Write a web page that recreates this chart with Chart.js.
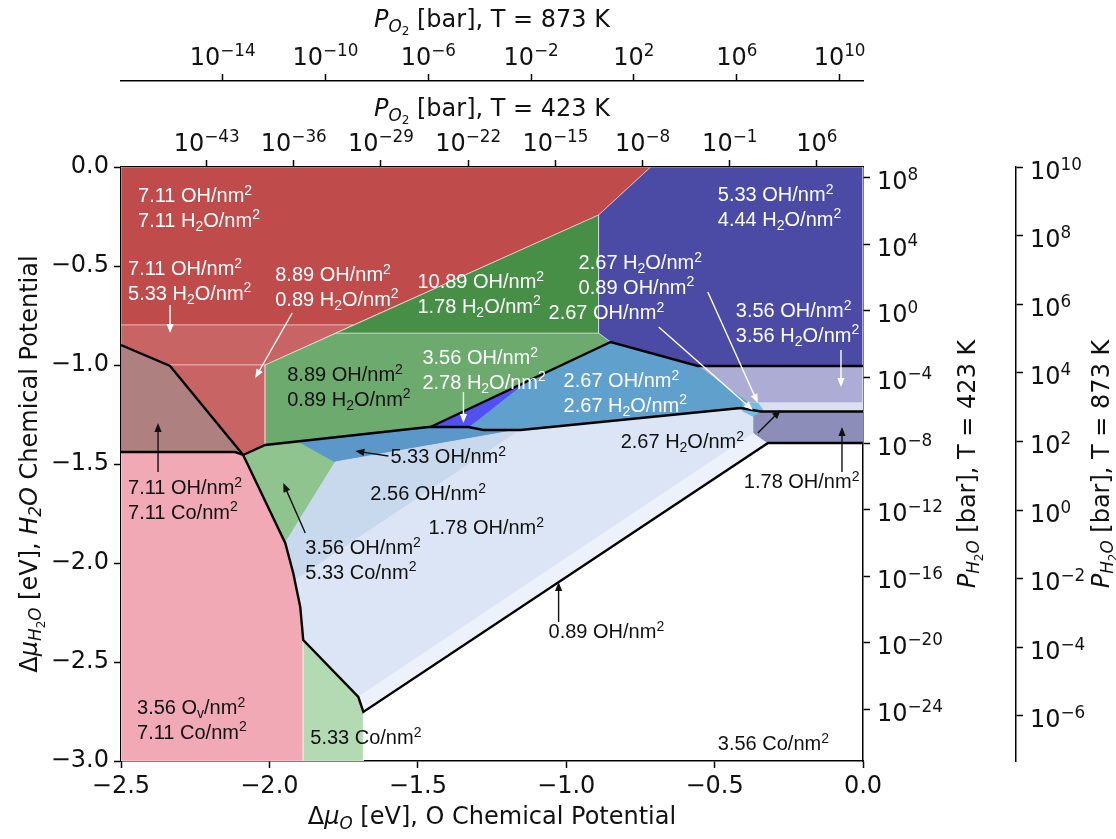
<!DOCTYPE html>
<html>
<head>
<meta charset="utf-8">
<title>Surface phase diagram</title>
<script src="https://cdn.jsdelivr.net/npm/chart.js@4.4.1/dist/chart.umd.min.js"></script>
<style>
  html, body { margin: 0; padding: 0; background: #fff; }
  #wrap { width: 1116px; height: 839px; }
</style>
</head>
<body>
<div id="wrap"><canvas id="diagram" width="1116" height="839"></canvas></div>
<script>
// ---------- thermodynamic references for the pressure axes (eV) ----------
const kB = 8.617333e-5;
const T_LOW = 423, T_HIGH = 873;
const muO_ref = { 423: -0.407, 873: -0.945 };    // Δμ_O at p = 1 bar
const muH2O_ref = { 423: -0.725, 873: -1.733 };  // Δμ_H2O at p = 1 bar

// ---------- axis ranges and tick values ----------
const muO_range = [-2.5, 0];
const muH2O_range = [-3, 0];
const o2TicksLow = [-43, -36, -29, -22, -15, -8, -1, 6];
const o2TicksHigh = [-14, -10, -6, -2, 2, 6, 10];
const h2oTicksLow = [8, 4, 0, -4, -8, -12, -16, -20, -24];
const h2oTicksHigh = [10, 8, 6, 4, 2, 0, -2, -4, -6];

// ---------- stable phases: vertices as [Δμ_O, Δμ_H2O] ----------
const oh711_h2o711 = [[-2.5, 0], [-0.7152, 0], [-0.8907, -0.2424], [-1.7173, -0.798], [-2.5, -0.798]];
const oh711_h2o533 = [[-2.5, -0.798], [-1.7173, -0.798], [-2.0142, -1.0], [-2.5, -1.0]];
const oh889_h2o089_a = [[-2.5, -1.0], [-2.0142, -1.0], [-2.0142, -1.404], [-2.0884, -1.4545], [-2.5, -1.4545]];
const oh711_co711 = [[-2.5, -0.899], [-2.3347, -1.0051], [-2.0884, -1.4545], [-2.1154, -1.4394], [-2.5, -1.4394]];
const ov356_co711 = [[-2.5, -1.4394], [-2.1154, -1.4394], [-2.0884, -1.4545], [-1.9467, -1.899], [-1.9197, -2.0505],
                     [-1.8961, -2.2222], [-1.886, -2.3889], [-1.886, -3.0], [-2.5, -3.0]];
const co533 = [[-1.886, -2.3889], [-1.7004, -2.6768], [-1.6835, -2.7525], [-1.6835, -3.0], [-1.886, -3.0]];
const oh356_co533 = [[-2.0884, -1.4545], [-2.0142, -1.404], [-1.9028, -1.3859], [-1.778, -1.4899], [-1.9467, -1.899]];
const oh533 = [[-1.9028, -1.3859], [-1.4642, -1.3131], [-1.3293, -1.3131], [-1.2787, -1.3283], [-1.164, -1.3283], [-1.778, -1.4899]];
const oh256 = [[-1.9467, -1.899], [-1.778, -1.4899], [-1.164, -1.3283], [-1.1538, -1.3283], [-1.9146, -2.0874], [-1.9197, -2.0505]];
const oh178 = [[-1.9146, -2.0874], [-1.1538, -1.3283], [-0.4116, -1.2172], [-0.3677, -1.2424], [-0.3677, -1.3434],
               [-1.7004, -2.6768], [-1.886, -2.3889], [-1.8961, -2.2222]];
const oh089 = [[-1.7004, -2.6768], [-0.3677, -1.3434], [-0.32, -1.394], [-1.6835, -2.7525]];
const oh178_b = [[-0.3441, -1.2348], [0, -1.2348], [0, -1.394], [-0.32, -1.394], [-0.3677, -1.3434], [-0.3677, -1.2424]];
const oh356_h2o356 = [[-0.5567, -1.0051], [0, -1.0051], [0, -1.1919], [-0.3846, -1.1919]];
const h2o267_oh089 = [[-0.3846, -1.1919], [0, -1.1919], [0, -1.2273], [-0.3543, -1.2273]];
const oh267_h2o267 = [[-1.3293, -1.3131], [-1.1404, -1.0909], [-0.8502, -0.8838], [-0.5567, -1.0051], [-0.3846, -1.1919],
                      [-0.4116, -1.2172], [-1.1538, -1.3283], [-1.2787, -1.3283]];
const oh267 = [[-0.4049, -1.1919], [-0.3543, -1.1919], [-0.3374, -1.2273], [-0.3711, -1.2576], [-0.4049, -1.2323]];
const oh356_h2o278 = [[-1.4575, -1.3131], [-1.3293, -1.3131], [-1.1404, -1.0909]];
const oh889_h2o089 = [[-1.7746, -0.8384], [-0.8907, -0.8384], [-0.8502, -0.8838], [-1.4575, -1.3131], [-2.0142, -1.404], [-2.0142, -1.0]];
const oh1089_h2o178 = [[-0.8907, -0.2424], [-0.8907, -0.8384], [-1.7746, -0.8384]];
const oh533_h2o444 = [[-0.7152, 0], [0, 0], [0, -1.0051], [-0.5567, -1.0051], [-0.8502, -0.8838], [-0.8907, -0.8384], [-0.8907, -0.2424]];

// ---------- phase boundaries drawn in black ----------
const edgeCoTop = [[-2.5, -0.899], [-2.3347, -1.0051], [-2.0884, -1.4545]];
const edgeCoBottom = [[-2.5, -1.4394], [-2.1154, -1.4394], [-2.0884, -1.4545]];
const edgeHydroxyl = [[-2.0884, -1.4545], [-2.0142, -1.404], [-1.4642, -1.3131], [-1.3293, -1.3131], [-1.2787, -1.3283],
                      [-1.1538, -1.3283], [-0.4116, -1.2172], [-0.3441, -1.2348], [0, -1.2348]];
const edgeWater = [[-1.4575, -1.3131], [-0.8502, -0.8838], [-0.5567, -1.0051], [0, -1.0051]];
const edgeReduced = [[-2.0884, -1.4545], [-1.9467, -1.899], [-1.9197, -2.0505], [-1.8961, -2.2222], [-1.886, -2.3889],
                     [-1.7004, -2.6768], [-1.6835, -2.7525], [-0.32, -1.394], [0, -1.394]];

// ---------- appearance ----------
const LIGHT_EDGE = 'rgba(255,255,255,0.45)';
const phases = [
  { pts: oh711_h2o711, color: '#bf4b4b', edge: LIGHT_EDGE },
  { pts: oh711_h2o533, color: '#c86464', edge: LIGHT_EDGE },
  { pts: oh889_h2o089_a, color: '#c86464', edge: LIGHT_EDGE },
  { pts: oh711_co711, color: '#ae8080' },
  { pts: ov356_co711, color: '#f1a9b5', edge: LIGHT_EDGE },
  { pts: co533, color: '#b3dab3', edge: LIGHT_EDGE },
  { pts: oh356_co533, color: '#8fc48f' },
  { pts: oh533, color: '#5b97c9' },
  { pts: oh256, color: '#c9d9ed' },
  { pts: oh178, color: '#dbe5f5' },
  { pts: oh089, color: '#edf1fc' },
  { pts: oh178_b, color: '#8d8dba' },
  { pts: oh356_h2o356, color: '#acacd5', edge: LIGHT_EDGE },
  { pts: h2o267_oh089, color: '#dcdef1' },
  { pts: oh267_h2o267, color: '#5fa0cd' },
  { pts: oh267, color: '#72bde3' },
  { pts: oh356_h2o278, color: '#5050f5' },
  { pts: oh889_h2o089, color: '#6daa6d', edge: LIGHT_EDGE },
  { pts: oh1089_h2o178, color: '#478e47', edge: LIGHT_EDGE },
  { pts: oh533_h2o444, color: '#4b4ba6', edge: LIGHT_EDGE }
];
const boundaries = [edgeCoTop, edgeCoBottom, edgeHydroxyl, edgeWater, edgeReduced];

// coverage annotations: anchor of the first line (left edge, line centre)
const notes = [
  { at: [-2.4427, -0.1414], color: '#fff', lines: ['7.11 OH/nm^{2}', '7.11 H_{2}O/nm^{2}'] },
  { at: [-2.4764, -0.5101], color: '#fff', lines: ['7.11 OH/nm^{2}', '5.33 H_{2}O/nm^{2}'] },
  { at: [-1.9804, -0.5404], color: '#fff', lines: ['8.89 OH/nm^{2}', '0.89 H_{2}O/nm^{2}'] },
  { at: [-1.5013, -0.5758], color: '#fff', lines: ['10.89 OH/nm^{2}', '1.78 H_{2}O/nm^{2}'] },
  { at: [-1.4845, -0.9596], color: '#fff', lines: ['3.56 OH/nm^{2}', '2.78 H_{2}O/nm^{2}'] },
  { at: [-0.4892, -0.1364], color: '#fff', lines: ['5.33 OH/nm^{2}', '4.44 H_{2}O/nm^{2}'] },
  { at: [-0.9582, -0.4798], color: '#fff', lines: ['2.67 H_{2}O/nm^{2}', '0.89 OH/nm^{2}'] },
  { at: [-1.0594, -0.7323], color: '#fff', lines: ['2.67 OH/nm^{2}'] },
  { at: [-0.4285, -0.7222], color: '#fff', lines: ['3.56 OH/nm^{2}', '3.56 H_{2}O/nm^{2}'] },
  { at: [-1.0088, -1.0758], color: '#fff', lines: ['2.67 OH/nm^{2}', '2.67 H_{2}O/nm^{2}'] },
  { at: [-1.9399, -1.0455], color: '#111', lines: ['8.89 OH/nm^{2}', '0.89 H_{2}O/nm^{2}'] },
  { at: [-1.5924, -1.4596], color: '#111', lines: ['5.33 OH/nm^{2}'] },
  { at: [-1.6599, -1.6465], color: '#111', lines: ['2.56 OH/nm^{2}'] },
  { at: [-1.4642, -1.8182], color: '#111', lines: ['1.78 OH/nm^{2}'] },
  { at: [-1.8792, -1.9192], color: '#111', lines: ['3.56 OH/nm^{2}', '5.33 Co/nm^{2}'] },
  { at: [-2.4764, -1.6162], color: '#111', lines: ['7.11 OH/nm^{2}', '7.11 Co/nm^{2}'] },
  { at: [-2.4460, -2.7273], color: '#111', lines: ['3.56 O_{v}/nm^{2}', '7.11 Co/nm^{2}'] },
  { at: [-1.8623, -2.8788], color: '#111', lines: ['5.33 Co/nm^{2}'] },
  { at: [-1.0594, -2.3434], color: '#111', lines: ['0.89 OH/nm^{2}'] },
  { at: [-0.4892, -2.9091], color: '#111', lines: ['3.56 Co/nm^{2}'] },
  { at: [-0.8165, -1.3838], color: '#111', lines: ['2.67 H_{2}O/nm^{2}'] },
  { at: [-0.4015, -1.5859], color: '#111', lines: ['1.78 OH/nm^{2}'] }
];
const pointers = [
  { from: [-2.3347, -0.697], to: [-2.3347, -0.8384], color: '#fff' },
  { from: [-1.9231, -0.7374], to: [-2.0479, -1.0657], color: '#fff' },
  { from: [-1.3462, -1.1364], to: [-1.3462, -1.2929], color: '#fff' },
  { from: [-0.0742, -0.9242], to: [-0.0742, -1.1111], color: '#fff' },
  { from: [-0.5229, -0.6313], to: [-0.3543, -1.1919], color: '#fff' },
  { from: [-0.6883, -0.8081], to: [-0.3711, -1.2273], color: '#fff' },
  { from: [-2.3752, -1.5404], to: [-2.3752, -1.2929], color: '#111' },
  { from: [-1.5992, -1.4596], to: [-1.7105, -1.4343], color: '#111' },
  { from: [-1.8792, -1.8485], to: [-1.9534, -1.596], color: '#111' },
  { from: [-1.0256, -2.298], to: [-1.0256, -2.096], color: '#111' },
  { from: [-0.3543, -1.3434], to: [-0.2767, -1.2273], color: '#111' },
  { from: [-0.0708, -1.5404], to: [-0.0708, -1.3131], color: '#111' }
];

// ---------- text helpers ----------
const LABEL_FONT = "'Liberation Sans', Arial, sans-serif";
const AXIS_FONT = "'DejaVu Sans', sans-serif";
const AXIS_SIZE = 24;
const fmtMu = v => (v < 0 ? '\u2212' : '') + Math.abs(v).toFixed(1);

function parseMarkup(s) {
  const out = [];
  const re = /([_^])\{([^}]*)\}/g;
  let last = 0, m;
  while ((m = re.exec(s))) {
    if (m.index > last) out.push({ t: s.slice(last, m.index) });
    out.push({ t: m[2], k: m[1] === '^' ? 1 : -1 });
    last = re.lastIndex;
  }
  if (last < s.length) out.push({ t: s.slice(last) });
  return out;
}
const SCALE = { '1': 0.7, '-1': 0.7, '-2': 0.5, '0': 1 };
const SHIFT = { '1': -0.38, '-1': 0.2, '-2': 0.34, '0': 0 };
function drawSegments(ctx, segs, x, baseline, size, family, color, align) {
  let w = 0;
  segs.forEach(s => {
    const k = String(s.k || 0);
    s._font = (s.it ? 'italic ' : '') + (size * SCALE[k]).toFixed(2) + 'px ' + family;
    ctx.font = s._font;
    s._w = ctx.measureText(s.t).width;
    w += s._w;
  });
  let cx = align === 'center' ? x - w / 2 : x;
  ctx.fillStyle = color;
  ctx.textAlign = 'left';
  ctx.textBaseline = 'alphabetic';
  segs.forEach(s => {
    ctx.font = s._font;
    ctx.fillText(s.t, cx, baseline + SHIFT[String(s.k || 0)] * size);
    cx += s._w;
  });
}
function drawArrow(ctx, x0, y0, x1, y1, color) {
  const ang = Math.atan2(y1 - y0, x1 - x0);
  const head = 9, half = 3.6;
  ctx.strokeStyle = color;
  ctx.fillStyle = color;
  ctx.lineWidth = 1.4;
  ctx.beginPath();
  ctx.moveTo(x0, y0);
  ctx.lineTo(x1 - Math.cos(ang) * head * 0.8, y1 - Math.sin(ang) * head * 0.8);
  ctx.stroke();
  ctx.beginPath();
  ctx.moveTo(x1, y1);
  ctx.lineTo(x1 - Math.cos(ang) * head + Math.sin(ang) * half, y1 - Math.sin(ang) * head - Math.cos(ang) * half);
  ctx.lineTo(x1 - Math.cos(ang) * head - Math.sin(ang) * half, y1 - Math.sin(ang) * head + Math.cos(ang) * half);
  ctx.closePath();
  ctx.fill();
}
const powerLabel = v => [{ t: '10' }, { t: String(v).replace('-', '\u2212'), k: 1 }];

const xTitle = [{ t: 'Δ' }, { t: 'μ', it: 1 }, { t: 'O', it: 1, k: -1 }, { t: ' [eV], O Chemical Potential' }];
const yTitle = [{ t: 'Δ' }, { t: 'μ', it: 1 }, { t: 'H', it: 1, k: -1 }, { t: '2', k: -2 }, { t: 'O', it: 1, k: -1 },
                { t: ' [eV], ' }, { t: 'H', it: 1 }, { t: '2', it: 1, k: -1 }, { t: 'O', it: 1 }, { t: ' Chemical Potential' }];
const o2Title = T => [{ t: 'P', it: 1 }, { t: 'O', it: 1, k: -1 }, { t: '2', k: -2 }, { t: ' [bar], T = ' + T + ' K' }];
const h2oTitle = T => [{ t: 'P', it: 1 }, { t: 'H', it: 1, k: -1 }, { t: '2', k: -2 }, { t: 'O', it: 1, k: -1 },
                       { t: ' [bar], T = ' + T + ' K' }];

const annotationLayer = {
  id: 'annotationLayer',
  afterDatasetsDraw(chart) {
    const { ctx } = chart;
    const sx = chart.scales.x, sy = chart.scales.y;
    ctx.save();
    pointers.forEach(p => {
      drawArrow(ctx, sx.getPixelForValue(p.from[0]), sy.getPixelForValue(p.from[1]),
                sx.getPixelForValue(p.to[0]), sy.getPixelForValue(p.to[1]), p.color);
    });
    notes.forEach(n => {
      const px = sx.getPixelForValue(n.at[0]);
      const py = sy.getPixelForValue(n.at[1]);
      n.lines.forEach((line, i) => {
        drawSegments(ctx, parseMarkup(line), px, py + i * 24.5 + 7.2, 20, LABEL_FONT, n.color, 'left');
      });
    });
    ctx.restore();
  },
  afterDraw(chart) {
    const { ctx, chartArea: a, scales } = chart;
    const size = AXIS_SIZE;
    const mid = (a.left + a.right) / 2, midY = (a.top + a.bottom) / 2;
    ctx.save();
    // exponent tick labels of the pressure axes
    ['o2Low', 'o2High'].forEach(id => {
      const s = scales[id];
      s.ticks.forEach(t => {
        drawSegments(ctx, powerLabel(t.value), s.getPixelForValue(t.value), s.bottom - 16, size, AXIS_FONT, '#111', 'center');
      });
    });
    ['h2oLow', 'h2oHigh'].forEach(id => {
      const s = scales[id];
      s.ticks.forEach(t => {
        drawSegments(ctx, powerLabel(t.value), s.left + 14, s.getPixelForValue(t.value) + 11.5, size, AXIS_FONT, '#111', 'left');
      });
    });
    // axis titles
    drawSegments(ctx, xTitle, mid, scales.x.bottom - 15, size, AXIS_FONT, '#111', 'center');
    drawSegments(ctx, o2Title(T_HIGH), mid, scales.o2High.top + 27, size, AXIS_FONT, '#111', 'center');
    drawSegments(ctx, o2Title(T_LOW), mid, scales.o2Low.top + 35, size, AXIS_FONT, '#111', 'center');
    const vertical = (segs, x) => {
      ctx.save();
      ctx.translate(x, midY);
      ctx.rotate(-Math.PI / 2);
      drawSegments(ctx, segs, 0, 8.5, size, AXIS_FONT, '#111', 'center');
      ctx.restore();
    };
    vertical(yTitle, scales.y.left + 28);
    vertical(h2oTitle(T_LOW), scales.h2oLow.right - 50);
    vertical(h2oTitle(T_HIGH), scales.h2oHigh.right - 16);
    ctx.restore();
  }
};

// ---------- datasets ----------
const closed = pts => pts.concat([pts[0]]).map(([x, y]) => ({ x, y }));
const datasets = [];
phases.forEach((ph, i) => {
  datasets.push({
    data: closed(ph.pts),
    backgroundColor: ph.color,
    borderColor: ph.edge || ph.color,
    borderWidth: 1,
    fill: 'shape',
    pointRadius: 0,
    tension: 0,
    order: 100 - i
  });
});
boundaries.forEach(b => {
  datasets.push({
    data: b.map(([x, y]) => ({ x, y })),
    borderColor: '#000',
    backgroundColor: '#000',
    borderWidth: 2.4,
    fill: false,
    pointRadius: 0,
    tension: 0,
    order: 1
  });
});

// ---------- scales ----------
const tickFont = { family: AXIS_FONT, size: AXIS_SIZE };
const gridStyle = { drawOnChartArea: false, tickLength: 7, tickColor: '#000', tickWidth: 1.5 };
const borderStyle = { color: '#000', width: 1.5 };
const perDecadeO = T => 0.5 * kB * T * Math.LN10;   // Δμ_O = ½ kT ln(p)
const perDecadeH2O = T => kB * T * Math.LN10;       // Δμ_H2O = kT ln(p)
const o2Range = T => muO_range.map(m => (m - muO_ref[T]) / perDecadeO(T));
const h2oRange = T => muH2O_range.map(m => (m - muH2O_ref[T]) / perDecadeH2O(T));

function pressureScale(position, weight, range, ticks, size) {
  const horizontal = position === 'top';
  return {
    type: 'linear', position, weight, axis: horizontal ? 'x' : 'y',
    min: range[0], max: range[1],
    afterBuildTicks: s => { s.ticks = ticks.map(value => ({ value })); },
    ticks: { display: false, autoSkip: false },
    grid: gridStyle, border: borderStyle,
    afterFit: s => { if (horizontal) s.height = size; else s.width = size; }
  };
}

new Chart(document.getElementById('diagram'), {
  type: 'line',
  data: { datasets },
  options: {
    responsive: false,
    animation: false,
    events: [],
    layout: { padding: 0 },
    plugins: { legend: { display: false }, tooltip: { enabled: false } },
    scales: {
      x: {
        type: 'linear', position: 'bottom', min: muO_range[0], max: muO_range[1],
        ticks: { stepSize: 0.5, font: tickFont, color: '#111', padding: 4, maxRotation: 0, callback: v => fmtMu(v) },
        grid: gridStyle, border: borderStyle,
        afterFit: s => { s.height = 78; }
      },
      y: {
        type: 'linear', position: 'left', min: muH2O_range[0], max: muH2O_range[1],
        ticks: { stepSize: 0.5, font: tickFont, color: '#111', padding: 5, callback: v => fmtMu(v) },
        grid: gridStyle, border: borderStyle,
        afterFit: s => { s.width = 121; }
      },
      o2Low: pressureScale('top', 0, o2Range(T_LOW), o2TicksLow, 86),
      o2High: pressureScale('top', 1, o2Range(T_HIGH), o2TicksHigh, 81),
      h2oLow: pressureScale('right', 0, h2oRange(T_LOW), h2oTicksLow, 153),
      h2oHigh: pressureScale('right', 1, h2oRange(T_HIGH), h2oTicksHigh, 100)
    }
  },
  plugins: [annotationLayer]
});
</script>
</body>
</html>
